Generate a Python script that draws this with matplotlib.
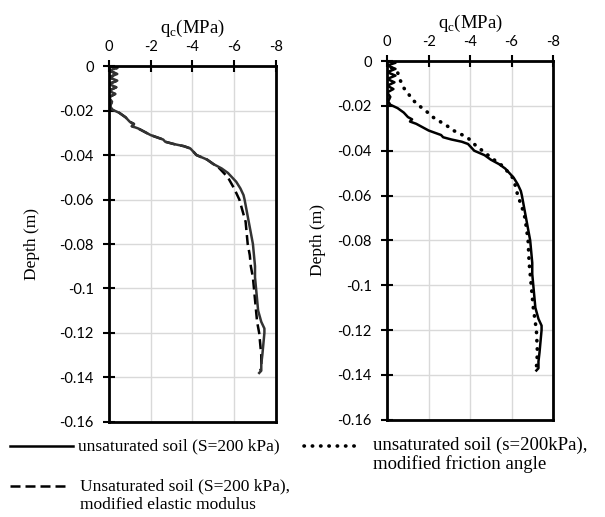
import matplotlib
matplotlib.use("Agg")
import matplotlib.pyplot as plt
from matplotlib.lines import Line2D
from matplotlib.ticker import FuncFormatter

plt.rcParams["axes.unicode_minus"] = False

# ---------------------------------------------------------------------------
# Data
# ---------------------------------------------------------------------------
# unsaturated soil (S=200 kPa) -- shown in both panels
base_depth = [0, -0.0008, -0.002, -0.0035, -0.005, -0.0065, -0.008, -0.0095,
              -0.011, -0.0125, -0.014, -0.016, -0.018, -0.0195, -0.021, -0.023,
              -0.025, -0.026, -0.027, -0.028, -0.030, -0.031, -0.032, -0.033,
              -0.034, -0.035, -0.036, -0.037, -0.038, -0.040, -0.042, -0.044,
              -0.046, -0.048, -0.050, -0.052, -0.055, -0.058, -0.060, -0.065,
              -0.070, -0.075, -0.080, -0.085, -0.090, -0.095, -0.100, -0.105,
              -0.110, -0.115, -0.118, -0.120, -0.125, -0.130, -0.134, -0.137,
              -0.138]
base_qc = [0, -0.4, 0, -0.4, 0, -0.4, 0, -0.35,
           0, -0.3, 0, -0.15, -0.05, -0.15, -0.5, -0.8,
           -1.0, -1.2, -1.1, -1.4, -1.8, -2.0, -2.3, -2.6,
           -2.7, -3.1, -3.6, -3.9, -4.0, -4.2, -4.7, -5.0,
           -5.4, -5.7, -5.9, -6.1, -6.3, -6.45, -6.5, -6.6,
           -6.7, -6.8, -6.9, -6.95, -7.0, -7.0, -7.05, -7.1,
           -7.15, -7.3, -7.45, -7.45, -7.4, -7.35, -7.3, -7.3,
           -7.2]

# Unsaturated soil (S=200 kPa), modified elastic modulus (left panel)
elastic_depth = [-0.046, -0.048, -0.050, -0.055, -0.060, -0.065, -0.070, -0.075,
                 -0.080, -0.085, -0.090, -0.095, -0.100, -0.105, -0.110, -0.115,
                 -0.120, -0.125, -0.130, -0.135, -0.137]
elastic_qc = [-5.3, -5.5, -5.7, -6.0, -6.25, -6.4, -6.55, -6.6,
              -6.65, -6.75, -6.8, -6.9, -6.95, -7.0, -7.05, -7.1,
              -7.2, -7.25, -7.3, -7.3, -7.25]

# unsaturated soil (s=200kPa), modified friction angle (right panel)
friction_depth = [0, -0.002, -0.004, -0.005, -0.008, -0.012, -0.015, -0.0175,
                  -0.020, -0.0225, -0.025, -0.027, -0.029, -0.031, -0.034, -0.036,
                  -0.038, -0.040, -0.043, -0.047, -0.052, -0.056, -0.060, -0.065,
                  -0.070, -0.080, -0.090, -0.100, -0.110, -0.120, -0.130, -0.137]
friction_qc = [0, -0.1, -0.3, -0.5, -0.6, -0.8, -1.05, -1.25,
               -1.55, -1.9, -2.2, -2.55, -2.9, -3.2, -3.85, -4.1,
               -4.3, -4.6, -5.0, -5.6, -6.05, -6.2, -6.3, -6.5,
               -6.65, -6.8, -6.85, -6.95, -7.05, -7.2, -7.25, -7.2]

x_ticks = [0, -2, -4, -6, -8]
y_ticks = [0, -0.02, -0.04, -0.06, -0.08, -0.1, -0.12, -0.14, -0.16]

# elastic curve shares the base curve above -0.045 m
n_top = sum(1 for d in base_depth if d > -0.046)
el_depth = base_depth[:n_top] + elastic_depth
el_qc = base_qc[:n_top] + elastic_qc

# ---------------------------------------------------------------------------
# Plot
# ---------------------------------------------------------------------------
fig = plt.figure(figsize=(6.05, 5.17), dpi=100)
ax_l = fig.add_axes([0.180, 0.184, 0.276, 0.688])
ax_r = fig.add_axes([0.640, 0.188, 0.274, 0.694])

tick_font = "Lato"
serif = "Liberation Serif"


def style(ax, ylabelpad):
    ax.set_xlim(0, -8)
    ax.set_ylim(-0.16, 0)
    ax.set_xticks(x_ticks)
    ax.set_yticks(y_ticks)
    ax.xaxis.tick_top()
    ax.xaxis.set_label_position("top")
    ax.yaxis.set_major_formatter(FuncFormatter(lambda v, p: f"{v:g}"))
    ax.xaxis.set_major_formatter(FuncFormatter(lambda v, p: f"{v:g}"))
    ax.grid(True, color="#d9d9d9", linewidth=1.0)
    ax.set_axisbelow(True)
    for s in ax.spines.values():
        s.set_linewidth(2.0)
        s.set_color("black")
    ax.tick_params(axis="both", direction="inout", length=8, width=1.5,
                   labelsize=10.5)
    ax.tick_params(axis="y", pad=7)
    ax.tick_params(axis="x", pad=5)
    for lab in ax.get_xticklabels() + ax.get_yticklabels():
        lab.set_fontfamily(tick_font)
    ax.set_xlabel("q$_\\mathregular{c}$(MPa)", family=serif, fontsize=13.5,
                  labelpad=5)
    ax.set_ylabel("Depth (m)", family=serif, fontsize=12.5, labelpad=ylabelpad)


# Left: modified elastic modulus
ax_l.plot(el_qc, el_depth, color="black", linewidth=1.8, linestyle=(0, (4, 2)))
ax_l.plot(base_qc, base_depth, color="#333333", linewidth=1.8)
style(ax_l, 14)

# Right: modified friction angle
ax_r.plot(base_qc, base_depth, color="black", linewidth=1.8)
ax_r.plot(friction_qc, friction_depth, color="black", linewidth=2.6,
          linestyle=(0, (0.1, 2.2)), dash_capstyle="round")
style(ax_r, 8)

# Legend drawn by hand below the panels
H = 517.0
W = 605.0


def leg_line(x0, x1, y, **kw):
    fig.add_artist(Line2D([x0 / W, x1 / W], [1 - y / H, 1 - y / H],
                          transform=fig.transFigure, color="black", **kw))


leg_line(10, 73, 446, linewidth=1.8)
fig.text(78 / W, 1 - 446 / H, "unsaturated soil (S=200 kPa)", family=serif,
         fontsize=12.5, va="center", ha="left")

leg_line(304, 355, 446, linewidth=2.6, linestyle=(0, (0.1, 2.2)),
         dash_capstyle="round")
fig.text(373 / W, 1 - 445 / H, "unsaturated soil (s=200kPa),", family=serif,
         fontsize=13.5, va="center", ha="left")
fig.text(373 / W, 1 - 464 / H, "modified friction angle", family=serif,
         fontsize=13.5, va="center", ha="left")

leg_line(10, 68, 486, linewidth=1.8, linestyle=(0, (4, 2)))
fig.text(80 / W, 1 - 486 / H, "Unsaturated soil (S=200 kPa),", family=serif,
         fontsize=12.5, va="center", ha="left")
fig.text(80 / W, 1 - 505 / H, "modified elastic modulus", family=serif,
         fontsize=12.5, va="center", ha="left")

fig.savefig("out.png", dpi=100, facecolor="white")
